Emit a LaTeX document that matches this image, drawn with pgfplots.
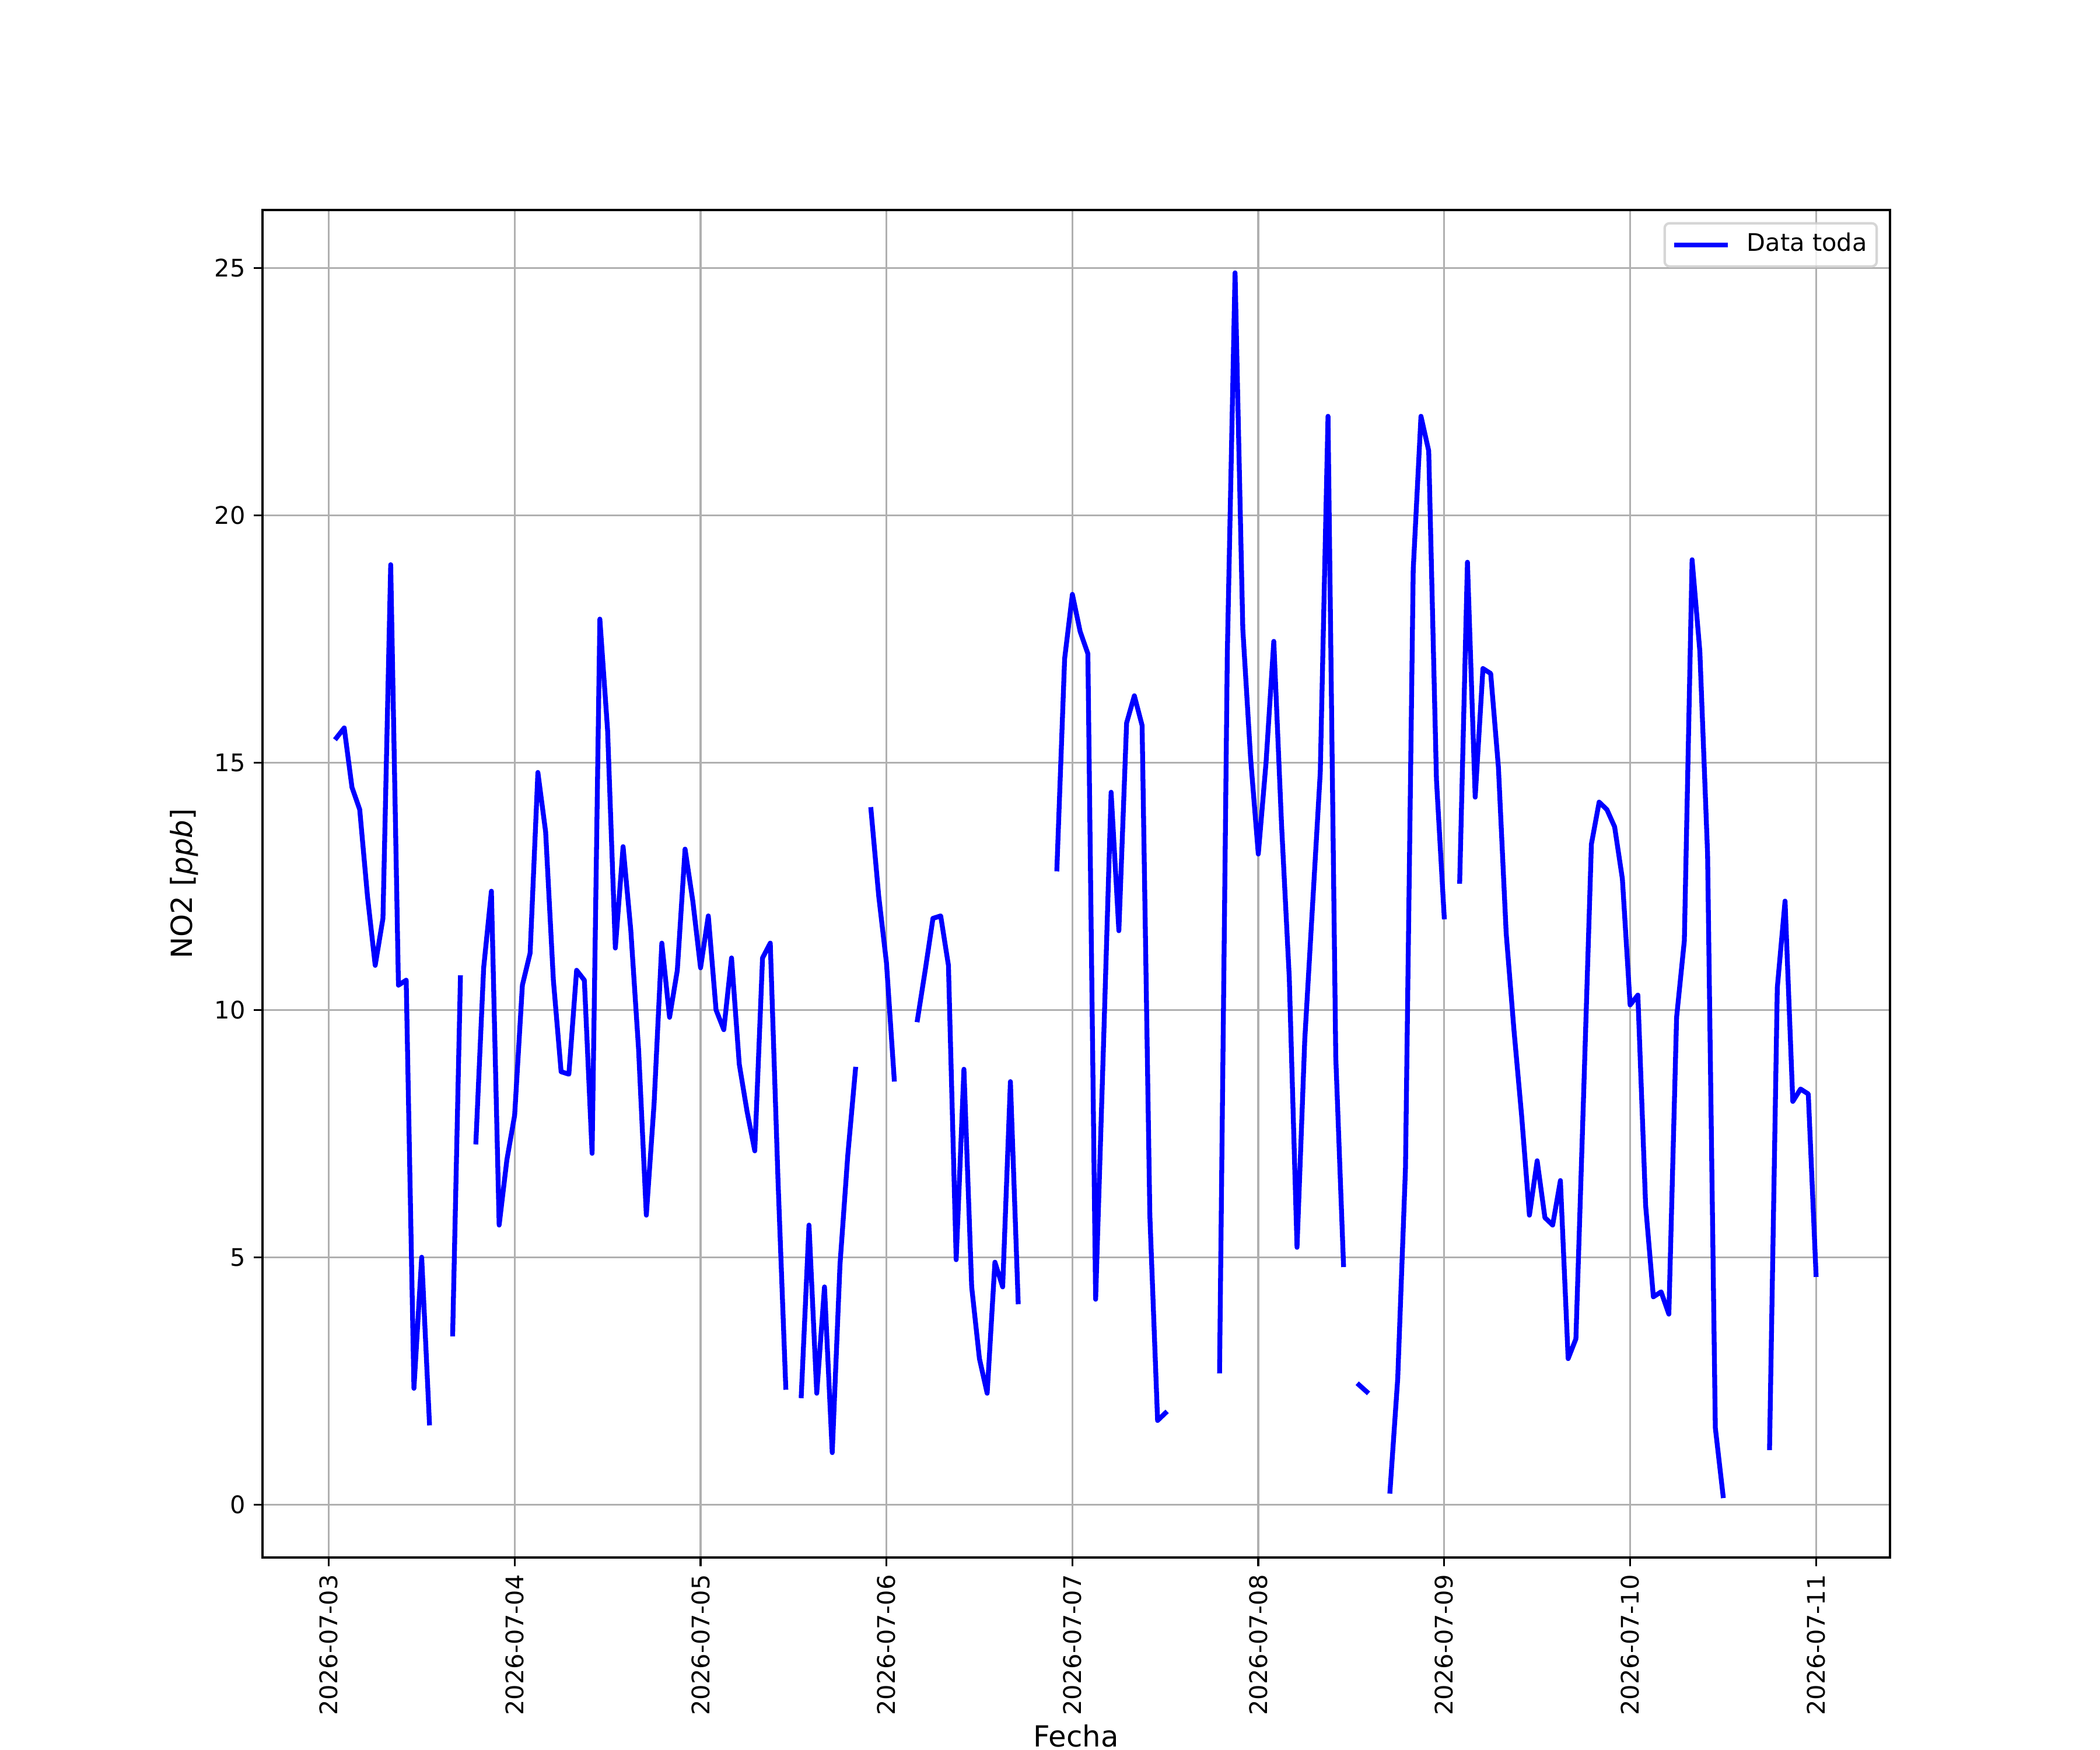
\documentclass[border=0pt]{standalone}
\usepackage{fontspec}
\setmainfont{DejaVu Sans}
\usepackage{pgfplots}
\usepackage{pgfplotstable}
\pgfplotsset{compat=1.18}
\pgfplotstableread{
h v
1 15.5
2 15.7
3 14.5
4 14.05
5 12.3
6 10.9
7 11.85
8 19.0
9 10.5
10 10.6
11 2.35
12 5.0
13 1.65
14 nan
15 nan
16 3.45
17 10.65
18 nan
19 7.33
20 10.85
21 12.4
22 5.65
23 6.97
24 7.87
25 10.5
26 11.15
27 14.8
28 13.6
29 10.6
30 8.75
31 8.7
32 10.8
33 10.6
34 7.1
35 17.9
36 15.65
37 11.25
38 13.3
39 11.6
40 9.2
41 5.85
42 8.1
43 11.35
44 9.85
45 10.8
46 13.25
47 12.2
48 10.85
49 11.9
50 10.0
51 9.6
52 11.05
53 8.9
54 7.95
55 7.15
56 11.05
57 11.35
58 6.55
59 2.37
60 nan
61 2.2
62 5.65
63 2.25
64 4.4
65 1.05
66 4.85
67 7.05
68 8.8
69 nan
70 14.05
71 12.3
72 10.95
73 8.6
74 nan
75 nan
76 9.8
77 10.8
78 11.85
79 11.9
80 10.9
81 4.95
82 8.8
83 4.4
84 2.95
85 2.25
86 4.9
87 4.4
88 8.55
89 4.1
90 nan
91 nan
92 nan
93 nan
94 12.85
95 17.1
96 18.4
97 17.65
98 17.2
99 4.15
100 9.2
101 14.4
102 11.6
103 15.8
104 16.35
105 15.75
106 5.85
107 1.7
108 1.85
109 nan
110 nan
111 nan
112 nan
113 nan
114 nan
115 2.7
116 17.2
117 24.9
118 17.7
119 15.1
120 13.15
121 15.0
122 17.45
123 13.75
124 10.65
125 5.2
126 9.4
127 12.1
128 14.8
129 22.0
130 9.05
131 4.85
132 nan
133 2.42
134 2.28
135 nan
136 nan
137 0.27
138 2.55
139 6.8
140 18.9
141 22.0
142 21.3
143 14.65
144 11.88
145 nan
146 12.6
147 19.05
148 14.3
149 16.9
150 16.8
151 14.9
152 11.55
153 9.6
154 7.85
155 5.85
156 6.95
157 5.8
158 5.65
159 6.55
160 2.95
161 3.35
162 8.3
163 13.35
164 14.2
165 14.05
166 13.7
167 12.65
168 10.1
169 10.3
170 6.05
171 4.2
172 4.3
173 3.85
174 9.85
175 11.4
176 19.1
177 17.25
178 13.15
179 1.55
180 0.18
181 nan
182 nan
183 nan
184 nan
185 nan
186 1.15
187 10.45
188 12.2
189 8.15
190 8.4
191 8.3
192 4.65
}\datatoda

\begin{document}
\fontsize{10}{12}\selectfont
\begin{tikzpicture}
\path[use as bounding box] (-1.5in,-1.1in) rectangle (10.5in,8.9in);
\begin{axis}[
  at={(0,0)}, anchor=south west,
  scale only axis, width=9.3in, height=7.7in,
  xmin=-8.55, xmax=201.55, ymin=-1.07, ymax=26.17,
  xtick={0,24,...,192},
  xticklabels={2026-07-03,2026-07-04,2026-07-05,2026-07-06,2026-07-07,2026-07-08,2026-07-09,2026-07-10,2026-07-11},
  ytick={0,5,...,25},
  tick pos=left,
  tick align=outside,
  major tick length=3.5pt,
  tick style={line width=0.8pt, black},
  axis line style={line width=0.8pt},
  grid=major,
  major grid style={color=black!31, line width=0.8pt},
  /pgf/number format/assume math mode=true,
  ticklabel style={font=\fontsize{10}{12}\selectfont},
  xticklabel style={rotate=90, anchor=east},
  xlabel={Fecha},
  ylabel={NO2 [\textit{ppb}]},
  label style={font=\fontsize{12}{14}\selectfont},
  xlabel style={at={(rel axis cs:0.5,0)}, anchor=base, yshift=-78.2pt},
  unbounded coords=jump,
  legend style={at={(rel axis cs:1,1)}, anchor=north east, xshift=-5pt, yshift=-5pt,
    draw=black!20, line width=1pt, rounded corners=2pt, fill=white,
    fill opacity=0.8, draw opacity=0.8, text opacity=1,
    inner xsep=4pt, inner ysep=4pt,
    nodes={inner sep=0pt, text height=7.6pt, text depth=2.2pt},
    font=\fontsize{10}{12}\selectfont,
    /tikz/every odd column/.append style={column sep=8pt}},
  legend image code/.code={\draw[#1, draw opacity=1] (0pt,0pt) -- (20pt,0pt);},
]
\addplot[color=blue, line width=2pt, line join=round, line cap=rect] table[x=h, y=v] {\datatoda};
\addlegendentry{Data toda}
\end{axis}
\end{tikzpicture}
\end{document}
